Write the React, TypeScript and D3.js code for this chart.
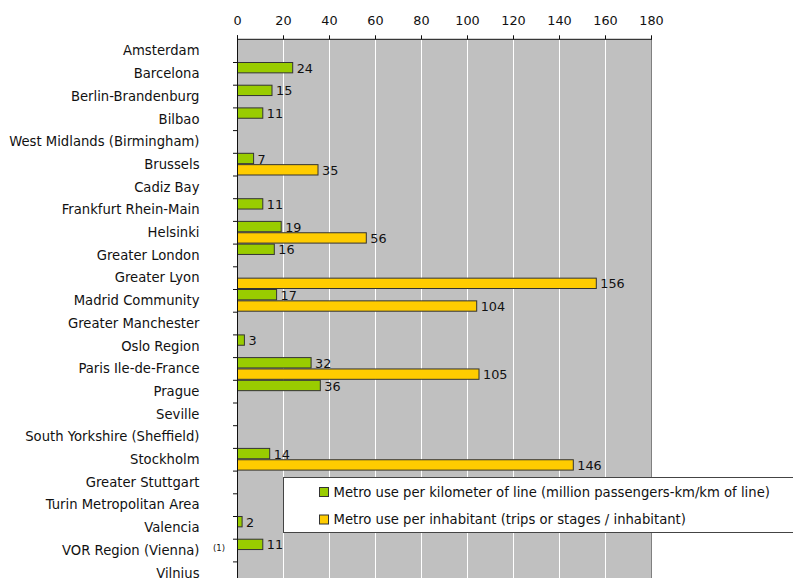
import * as d3 from "d3";

const cities = [
  "Amsterdam",
  "Barcelona",
  "Berlin-Brandenburg",
  "Bilbao",
  "West Midlands (Birmingham)",
  "Brussels",
  "Cadiz Bay",
  "Frankfurt Rhein-Main",
  "Helsinki",
  "Greater London",
  "Greater Lyon",
  "Madrid Community",
  "Greater Manchester",
  "Oslo Region",
  "Paris Ile-de-France",
  "Prague",
  "Seville",
  "South Yorkshire (Sheffield)",
  "Stockholm",
  "Greater Stuttgart",
  "Turin Metropolitan Area",
  "Valencia",
  "VOR Region (Vienna)",
  "Vilnius",
];

// null = no data for that city
const perKm: (number | null)[] = [
  null, 24, 15, 11, null, 7, null, 11, 19, 16, null, 17,
  null, 3, 32, 36, null, null, 14, null, null, 2, 11, null,
];
const perInhabitant: (number | null)[] = [
  null, null, null, null, null, 35, null, null, 56, null, 156, 104,
  null, null, 105, null, null, null, 146, null, null, null, null, null,
];

const xTicks = [0, 20, 40, 60, 80, 100, 120, 140, 160, 180];
const seriesNames = [
  "Metro use per kilometer of line (million passengers-km/km of line)",
  "Metro use per inhabitant (trips or stages / inhabitant)",
];
const colors = ["#99CC00", "#FFCC00"];

const W = 793;
const H = 578;
const FONT = "'DejaVu Sans', Verdana, sans-serif";

export default function App() {
  const x = d3.scaleLinear().domain([0, 180]).range([237, 651]);
  const top = 39.3;
  const step = 22.7;
  const y = d3
    .scaleBand<string>()
    .domain(cities)
    .range([top, top + step * cities.length])
    .padding(0);
  const bw = y.bandwidth();
  const bottom = top + step * cities.length;

  const series = [perKm, perInhabitant];

  return (
    <svg
      width={W}
      height={H}
      style={{ position: "absolute", left: 0, top: 0, background: "#fff" }}
      fontFamily={FONT}
    >
      {/* fond du graphique */}
      <rect x={x(0)} y={top} width={x(180) - x(0)} height={bottom - top} fill="#C0C0C0" />
      {xTicks.slice(1, -1).map((t) => (
        <line key={t} x1={x(t) + 0.5} x2={x(t) + 0.5} y1={top} y2={bottom} stroke="#fff" strokeWidth={1} />
      ))}
      <line x1={x(180) + 0.5} x2={x(180) + 0.5} y1={top} y2={bottom} stroke="#808080" />

      {/* axe du haut */}
      <line x1={x(0)} x2={x(180) + 1} y1={top} y2={top} stroke="#111" />
      {xTicks.map((t) => (
        <g key={t}>
          <line x1={x(t) + 0.5} x2={x(t) + 0.5} y1={top - 4} y2={top} stroke="#111" />
          <text x={x(t) + 0.5} y={25} textAnchor="middle" fontSize={12.8} fill="#111">
            {t}
          </text>
        </g>
      ))}

      {/* barres */}
      {cities.map((c, i) =>
        series.map((s, k) => {
          const v = s[i];
          if (v == null) return null;
          const by = (y(c) ?? 0) + (k * bw) / 2;
          return (
            <g key={c + k}>
              <rect
                x={x(0) + 0.5}
                y={by + 0.5}
                width={x(v) - x(0)}
                height={bw / 2 - 1}
                fill={colors[k]}
                stroke="#333"
                strokeWidth={1}
              />
              <text
                x={x(v) + 4.5}
                y={by + bw / 4 + 0.5}
                dy="0.36em"
                fontSize={12.8}
                fill="#111"
              >
                {v}
              </text>
            </g>
          );
        })
      )}

      {/* axe de gauche */}
      <line x1={x(0) + 0.5} x2={x(0) + 0.5} y1={top - 4} y2={bottom} stroke="#111" />
      {cities.map((c, i) => (
        <g key={c}>
          {i > 0 && (
            <line x1={x(0) - 4} x2={x(0)} y1={(y(c) ?? 0) + 0.5} y2={(y(c) ?? 0) + 0.5} stroke="#111" />
          )}
          <text
            x={199.5}
            y={(y(c) ?? 0) + bw / 2}
            dy="0.36em"
            textAnchor="end"
            fontSize={13.2}
            fill="#111"
          >
            {c}
          </text>
        </g>
      ))}
      <text x={219} y={(y("VOR Region (Vienna)") ?? 0) + bw / 2 - 2} dy="0.36em" textAnchor="middle" fontSize={8.5} fill="#111">
        (1)
      </text>

      {/* légende */}
      <rect x={283.5} y={477.5} width={540} height={55} fill="#fff" stroke="#444" />
      {seriesNames.map((n, k) => (
        <g key={n} transform={`translate(319.5, ${487.5 + k * 27.5})`}>
          <rect width={9} height={9} fill={colors[k]} stroke="#333" />
          <text x={14} y={4.5} dy="0.36em" fontSize={13.2} fill="#111">
            {n}
          </text>
        </g>
      ))}
    </svg>
  );
}
